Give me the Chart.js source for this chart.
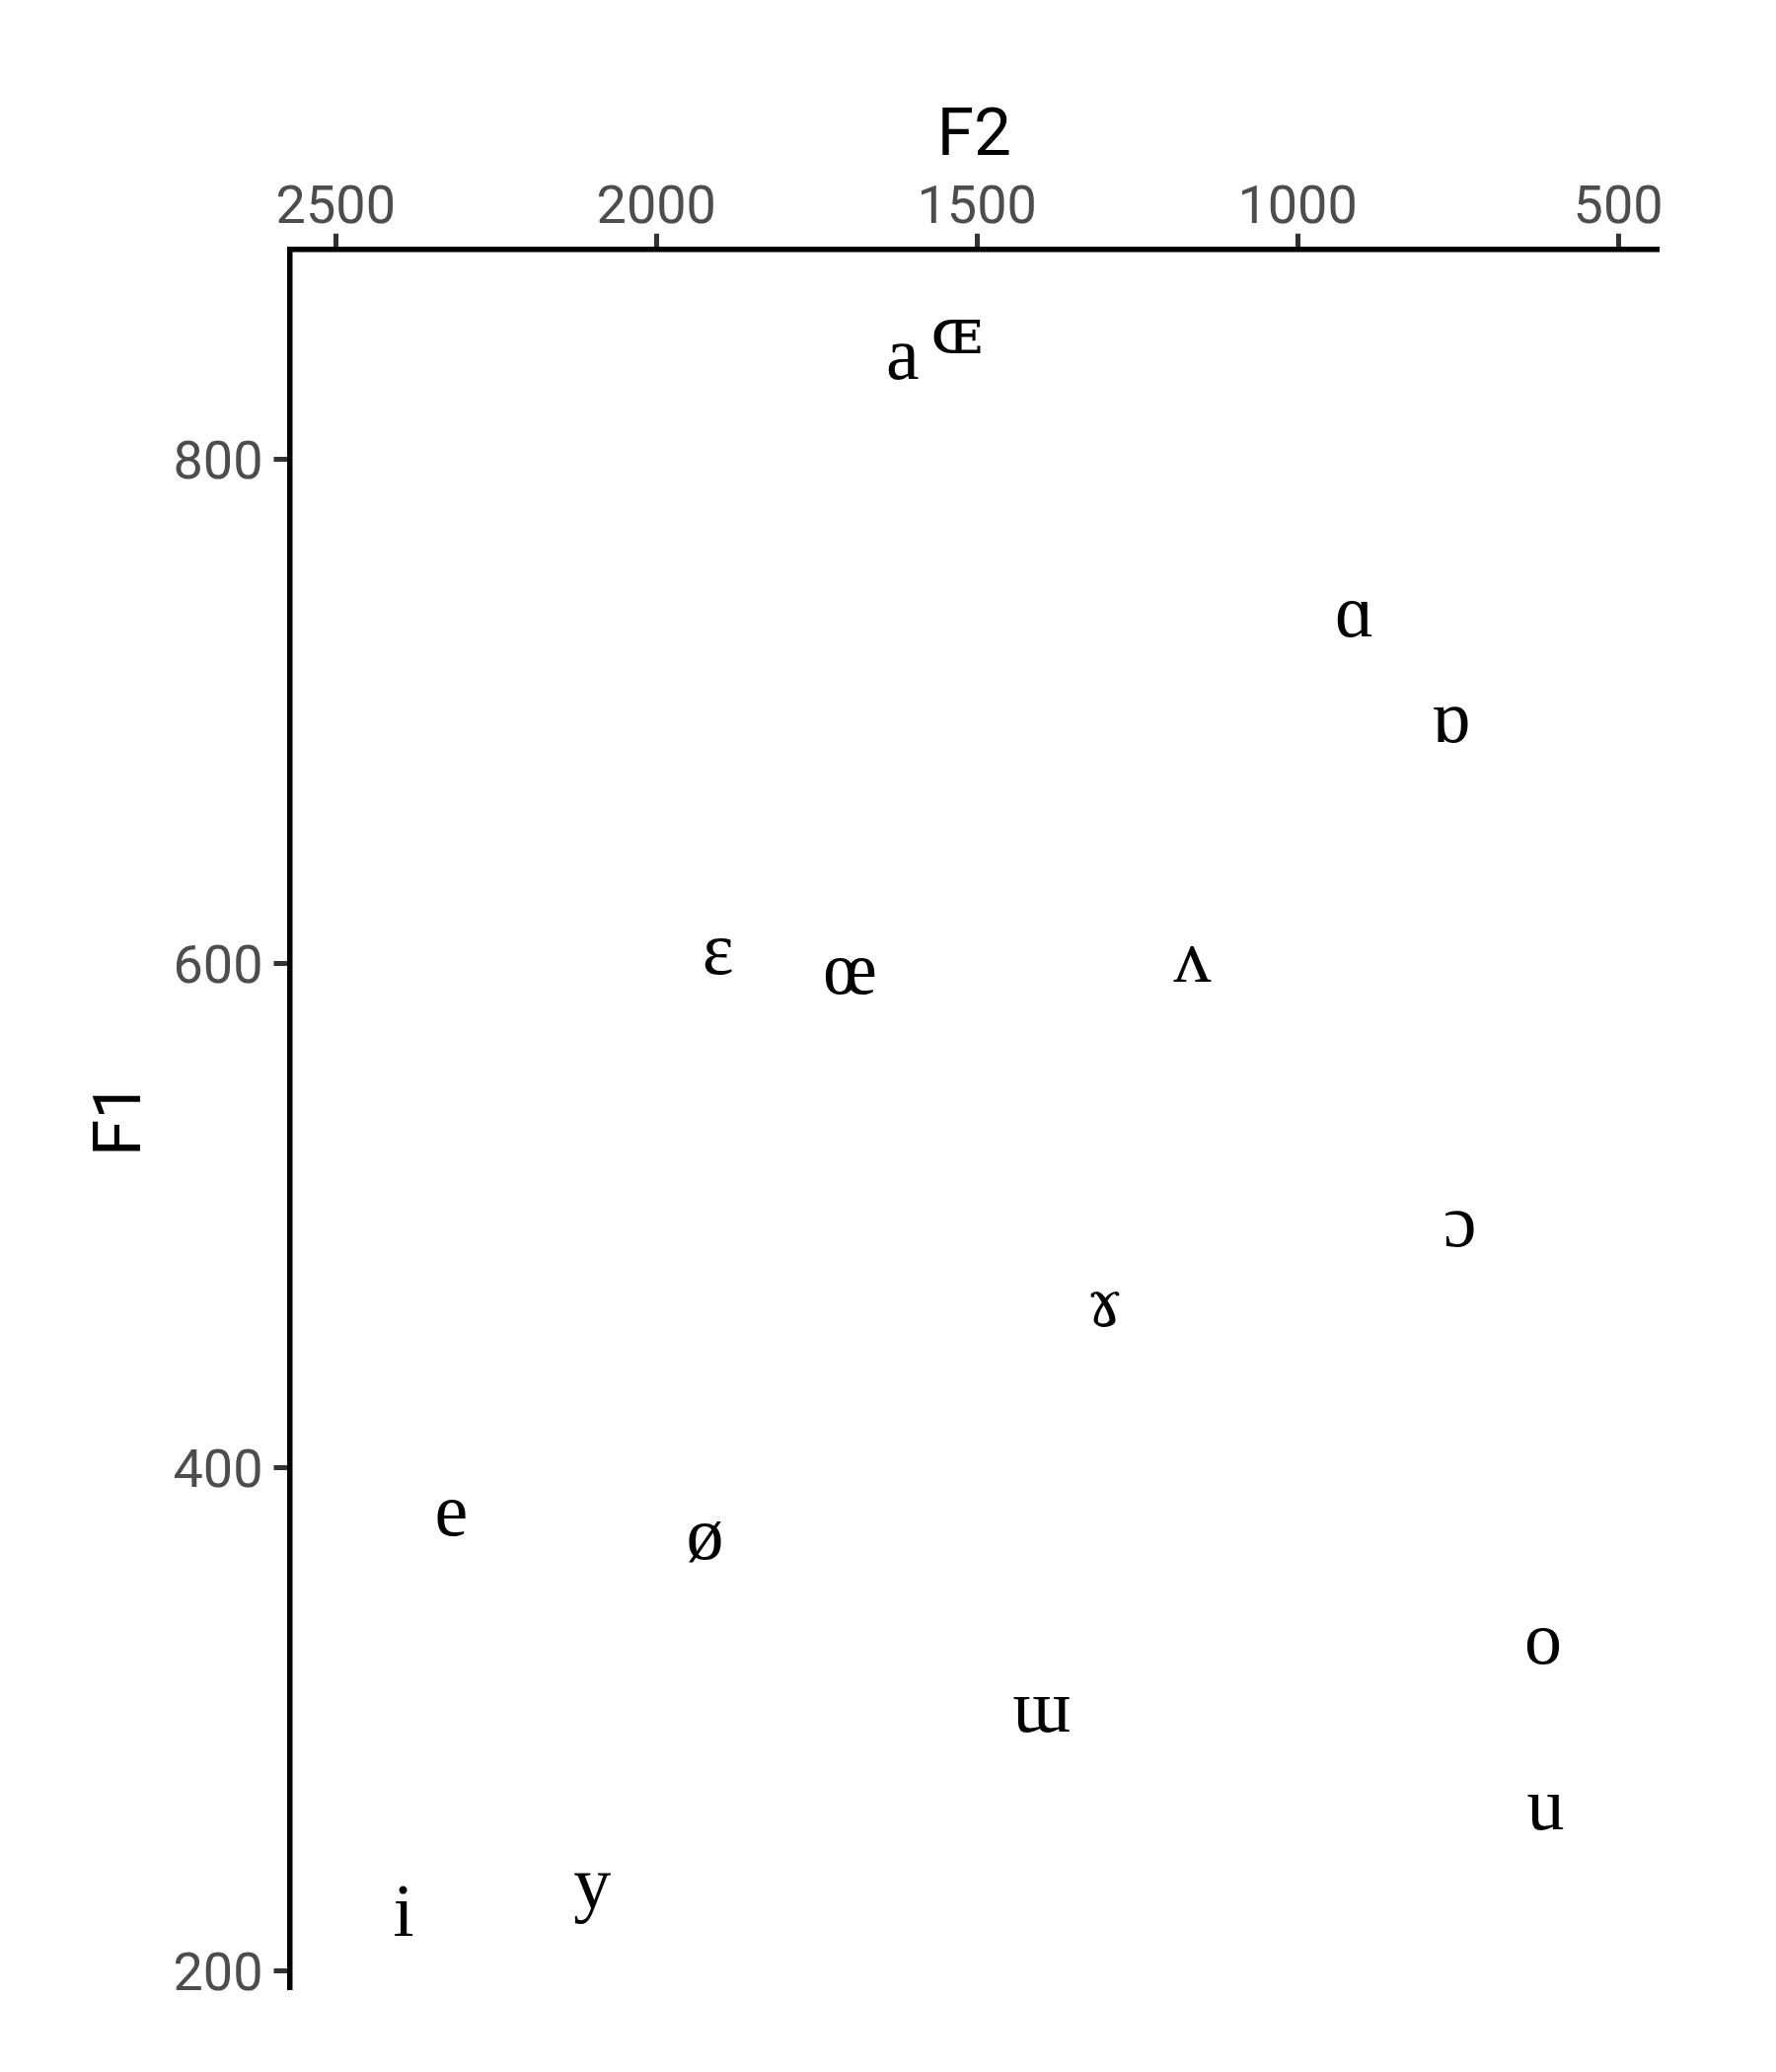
<!DOCTYPE html>
<html><head><meta charset="utf-8">
<script src="https://cdn.jsdelivr.net/npm/chart.js@4.4.1/dist/chart.umd.min.js"></script>
<style>html,body{margin:0;padding:0;background:#fff;} canvas{display:block;}</style>
</head><body>
<canvas id="c" width="1800" height="2100" style="width:1800px;height:2100px"></canvas>
<script>
const vowels   = ['i','y','e','ø','ɛ','œ','a','ɶ','ɑ','ɒ','ʌ','ɔ','ɤ','o','ɯ','u'];
const f1Values = [224, 232, 380, 371, 603, 595, 839, 849, 737, 695, 600, 495, 463, 329, 302, 263];
const f2Values = [2394,2100,2320,1924,1904,1698,1616,1532, 911, 761,1164, 747,1301, 617,1399, 613];
const xTickValues = [500, 1000, 1500, 2000, 2500];
const yTickValues = [200, 400, 600, 800];
const xTitle = 'F2';
const yTitle = 'F1';
const fallbackGlyphs = ['ɤ', 'ɶ'];

const points = f2Values.map((v, i) => ({x: v, y: f1Values[i]}));

const glyphPlugin = {
  id: 'glyphs',
  afterDatasetsDraw(chart) {
    const {ctx, scales: {x, y}} = chart;
    ctx.save();
    ctx.fillStyle = '#000000';
    ctx.textAlign = 'center';
    ctx.textBaseline = 'alphabetic';
    vowels.forEach((v, i) => {
      ctx.font = fallbackGlyphs.includes(v) ? '66px "DejaVu Serif", serif'
                                            : '76px "Liberation Serif", "DejaVu Serif", serif';
      const px = x.getPixelForValue(f2Values[i]);
      const py = y.getPixelForValue(f1Values[i]);
      const m = ctx.measureText(v);
      ctx.fillText(v, px, py + m.actualBoundingBoxAscent / 2);
    });
    ctx.restore();
  }
};

new Chart(document.getElementById('c'), {
  type: 'scatter',
  data: { datasets: [{ data: points, pointRadius: 0, pointHoverRadius: 0, showLine: false }] },
  options: {
    responsive: false,
    animation: false,
    devicePixelRatio: 1,
    layout: { padding: { top: 0, left: 0, right: 119, bottom: 84 } },
    plugins: { legend: { display: false }, tooltip: { enabled: false } },
    scales: {
      x: {
        type: 'linear', position: 'top', reverse: true, min: 437, max: 2572,
        afterBuildTicks: s => { s.ticks = xTickValues.map(v => ({value: v})); },
        afterFit: s => { s.height = 252.8; },
        grid: { display: true, drawOnChartArea: false, drawTicks: true, tickLength: 16, tickWidth: 5, tickColor: '#333333' },
        border: { display: true, color: '#000000', width: 5.5 },
        ticks: { color: '#4D4D4D', font: { family: 'Roboto', size: 54 }, padding: -8.5, maxRotation: 0, autoSkip: false,
                 callback: v => String(v) },
        title: { display: true, text: xTitle, color: '#000000', font: { family: 'Roboto', size: 67.5 }, padding: { top: 100, bottom: 0 } }
      },
      y: {
        type: 'linear', position: 'left', min: 192.8, max: 883.5,
        afterBuildTicks: s => { s.ticks = yTickValues.map(v => ({value: v})); },
        afterFit: s => { s.width = 293.5; },
        grid: { display: true, drawOnChartArea: false, drawTicks: true, tickLength: 16, tickWidth: 5, tickColor: '#333333' },
        border: { display: true, color: '#000000', width: 5.5 },
        ticks: { color: '#4D4D4D', font: { family: 'Roboto', size: 54 }, padding: 11, labelOffset: 6, autoSkip: false,
                 callback: v => String(v) },
        title: { display: true, text: yTitle, color: '#000000', font: { family: 'Roboto', size: 67.5 }, padding: { top: 85, bottom: 0 } }
      }
    }
  },
  plugins: [glyphPlugin]
});
</script>
</body></html>
